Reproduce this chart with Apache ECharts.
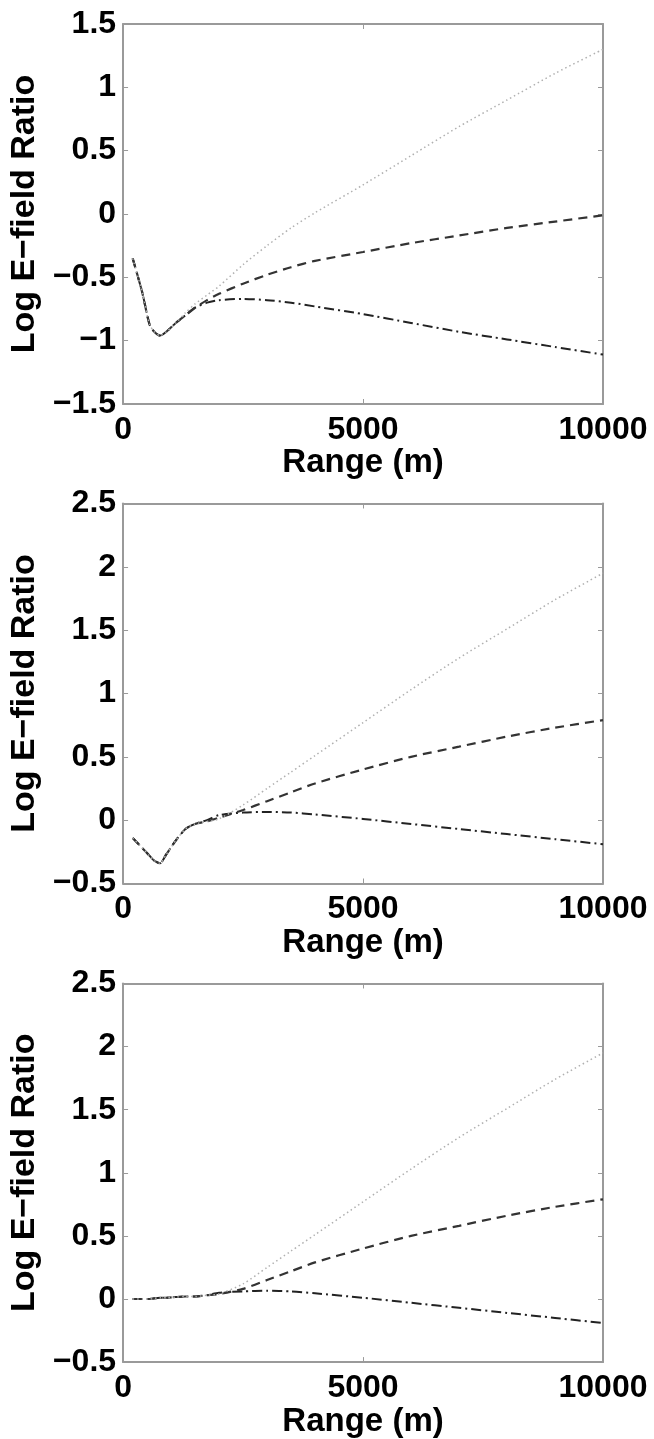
<!DOCTYPE html>
<html>
<head>
<meta charset="utf-8">
<script src="https://cdn.jsdelivr.net/npm/echarts@6/dist/echarts.min.js"></script>
<style>
html,body{margin:0;padding:0;background:#fff;}
#c{width:654px;height:1439px;}
</style>
</head>
<body>
<div id="c"></div>
<script>
// ---- data ----
const rangeM = [200, 400, 550, 650, 770, 900, 1100, 1300, 1500, 1750, 2000, 2500, 3000, 3500, 4000, 5000, 6000, 7000, 8000, 9000, 10000];

// Panel 1
const p1Dotted  = [-0.35, -0.62, -0.87, -0.93, -0.96, -0.93, -0.86, -0.78, -0.71, -0.64, -0.57, -0.40, -0.25, -0.11, 0.01, 0.23, 0.46, 0.69, 0.90, 1.11, 1.30];
const p1Dashed  = [-0.35, -0.62, -0.87, -0.93, -0.96, -0.93, -0.86, -0.80, -0.74, -0.68, -0.63, -0.55, -0.48, -0.42, -0.37, -0.30, -0.23, -0.17, -0.11, -0.06, -0.01];
const p1DashDot = [-0.35, -0.62, -0.87, -0.93, -0.96, -0.93, -0.86, -0.80, -0.74, -0.70, -0.68, -0.67, -0.68, -0.70, -0.73, -0.79, -0.86, -0.93, -0.99, -1.05, -1.11];

// Panel 2
const p2Dotted  = [-0.14, -0.22, -0.28, -0.32, -0.34, -0.27, -0.16, -0.07, -0.03, -0.01, 0.01, 0.12, 0.25, 0.38, 0.51, 0.77, 1.03, 1.28, 1.51, 1.74, 1.95];
const p2Dashed  = [-0.14, -0.22, -0.28, -0.32, -0.34, -0.27, -0.16, -0.07, -0.03, -0.01, 0.02, 0.08, 0.15, 0.22, 0.29, 0.40, 0.50, 0.58, 0.66, 0.73, 0.79];
const p2DashDot = [-0.14, -0.22, -0.28, -0.32, -0.34, -0.27, -0.16, -0.07, -0.03, 0.00, 0.04, 0.06, 0.065, 0.06, 0.045, 0.01, -0.03, -0.07, -0.11, -0.15, -0.19];

// Panel 3
const p3Dotted  = [0.00, 0.00, 0.00, 0.005, 0.01, 0.01, 0.015, 0.02, 0.02, 0.03, 0.04, 0.12, 0.25, 0.38, 0.51, 0.77, 1.03, 1.28, 1.51, 1.74, 1.95];
const p3Dashed  = [0.00, 0.00, 0.00, 0.005, 0.01, 0.01, 0.015, 0.02, 0.02, 0.03, 0.04, 0.08, 0.15, 0.22, 0.29, 0.40, 0.50, 0.58, 0.66, 0.73, 0.79];
const p3DashDot = [0.00, 0.00, 0.00, 0.005, 0.01, 0.01, 0.015, 0.02, 0.02, 0.03, 0.05, 0.06, 0.065, 0.06, 0.045, 0.01, -0.03, -0.07, -0.11, -0.15, -0.19];

const xTicks = [0, 5000, 10000];
const yRanges = [[-1.5, 1.5], [-0.5, 2.5], [-0.5, 2.5]];
const xName = 'Range (m)';
const yName = 'Log E\u2212field Ratio';

// ---- chart ----
const panels = [
  [p1Dotted, p1Dashed, p1DashDot],
  [p2Dotted, p2Dashed, p2DashDot],
  [p3Dotted, p3Dashed, p3DashDot]
];
const tops = [24, 503.5, 983.5];
const FONT = 'Liberation Sans';
const frameColor = '#9a9a9a';

const grid = [], xAxis = [], yAxis = [], series = [];
const fmtY = v => String(v).replace('-', '\u2212');
const fmtX = v => String(v);

panels.forEach((p, i) => {
  grid.push({left: 123, width: 480, top: tops[i], height: 380});
  const tick = {show: true, inside: true, length: 5, lineStyle: {color: frameColor, width: 1}};
  const line = {show: true, onZero: false, lineStyle: {color: frameColor, width: 2}};
  xAxis.push({
    type: 'value', gridIndex: i, min: xTicks[0], max: xTicks[2], interval: xTicks[1] - xTicks[0], position: 'bottom',
    axisLine: line, axisTick: tick, splitLine: {show: false},
    axisLabel: {show: true, margin: 10, color: '#000', fontFamily: FONT, fontWeight: 'bold', fontSize: 32, formatter: fmtX},
    name: xName, nameLocation: 'middle', nameGap: 42,
    nameTextStyle: {color: '#000', fontFamily: FONT, fontWeight: 'bold', fontSize: 33}
  });
  xAxis.push({
    type: 'value', gridIndex: i, min: xTicks[0], max: xTicks[2], interval: xTicks[1] - xTicks[0], position: 'top',
    axisLine: line, axisTick: tick, splitLine: {show: false}, axisLabel: {show: false}
  });
  yAxis.push({
    type: 'value', gridIndex: i, min: yRanges[i][0], max: yRanges[i][1], interval: 0.5, position: 'left',
    axisLine: line, axisTick: tick, splitLine: {show: false},
    axisLabel: {show: true, margin: 7, color: '#000', fontFamily: FONT, fontWeight: 'bold', fontSize: 32, formatter: fmtY},
    name: yName, nameLocation: 'middle', nameGap: 80,
    nameTextStyle: {color: '#000', fontFamily: FONT, fontWeight: 'bold', fontSize: 34}
  });
  yAxis.push({
    type: 'value', gridIndex: i, min: yRanges[i][0], max: yRanges[i][1], interval: 0.5, position: 'right',
    axisLine: line, axisTick: tick, splitLine: {show: false}, axisLabel: {show: false}
  });
  const styles = [
    {color: '#b0b0b0', width: 1.5, type: [1.5, 3]},
    {color: '#333333', width: 2.2, type: [9, 6]},
    {color: '#222222', width: 2, type: [10, 4, 2, 4]}
  ];
  p.forEach((vals, k) => {
    series.push({
      type: 'line', xAxisIndex: 2 * i, yAxisIndex: 2 * i,
      data: rangeM.map((r, j) => [r, vals[j]]),
      showSymbol: false, symbol: 'none', smooth: 0.25,
      lineStyle: styles[k], z: 3 - k, animation: false
    });
  });
});

const chart = echarts.init(document.getElementById('c'), null, {renderer: 'canvas'});
chart.setOption({backgroundColor: '#fff', animation: false, grid, xAxis, yAxis, series});
</script>
</body>
</html>
